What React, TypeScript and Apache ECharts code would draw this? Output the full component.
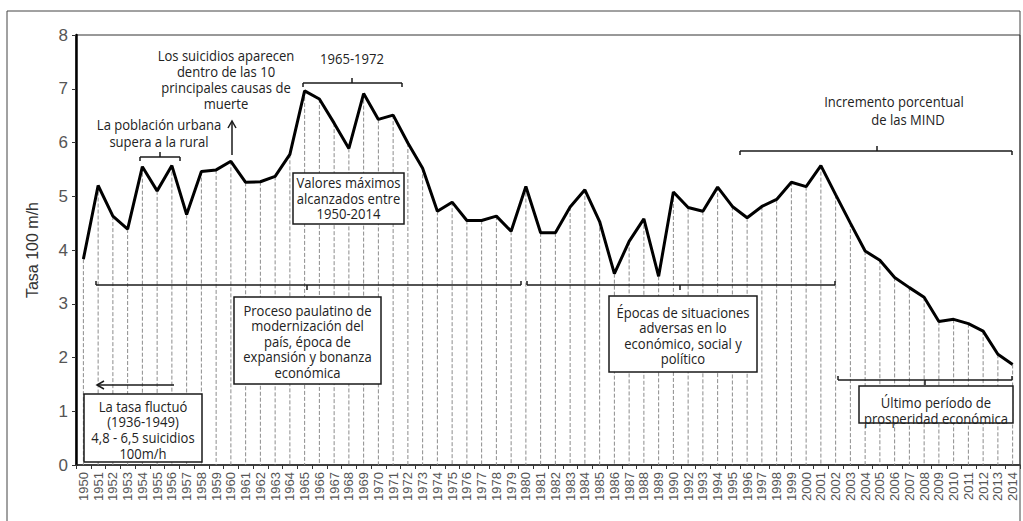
import React, { useEffect, useRef } from "react";
import * as echarts from "echarts";

const years = [
  "1950","1951","1952","1953","1954","1955","1956","1957","1958","1959",
  "1960","1961","1962","1963","1964","1965","1966","1967","1968","1969",
  "1970","1971","1972","1973","1974","1975","1976","1977","1978","1979",
  "1980","1981","1982","1983","1984","1985","1986","1987","1988","1989",
  "1990","1992","1993","1994","1995","1996","1997","1998","1999","2000",
  "2001","2002","2003","2004","2005","2006","2007","2008","2009","2010",
  "2011","2012","2013","2014",
];

const rates = [
  3.83, 5.2, 4.63, 4.39, 5.55, 5.1, 5.57, 4.66, 5.46, 5.49,
  5.65, 5.26, 5.27, 5.37, 5.78, 6.96, 6.81, 6.36, 5.89, 6.91,
  6.43, 6.51, 5.99, 5.52, 4.72, 4.89, 4.55, 4.55, 4.63, 4.35,
  5.18, 4.32, 4.32, 4.8, 5.12, 4.53, 3.56, 4.16, 4.58, 3.51,
  5.08, 4.79, 4.72, 5.17, 4.81, 4.6, 4.81, 4.94, 5.26, 5.18,
  5.57, 5.03, 4.5, 3.98, 3.81, 3.49, 3.3, 3.12, 2.67, 2.71,
  2.63, 2.49, 2.06, 1.87,
];

const yTicks = [0, 1, 2, 3, 4, 5, 6, 7, 8];
const yAxisTitle = "Tasa 100 m/h";

const AFONT = "'Open Sans', 'Noto Sans', sans-serif";
const XFONT = "'Liberation Sans', Arial, sans-serif";
const TXT = "#222";
const INK = "#1a1a1a";
const SX = 0.87;

function textLines(lines: string[], cx: number, y0: number, lh: number, size = 15): any[] {
  return lines.map((t, i) => ({
    type: "text",
    z: 20,
    x: cx,
    y: y0 + i * lh,
    scaleX: SX,
    style: {
      text: t,
      x: 0,
      y: 0,
      textAlign: "center",
      textVerticalAlign: "middle",
      font: `${size}px ${AFONT}`,
      fill: TXT,
    },
  }));
}

function box(x1: number, y1: number, x2: number, y2: number): any {
  return {
    type: "rect",
    z: 15,
    shape: { x: x1, y: y1, width: x2 - x1, height: y2 - y1 },
    style: { fill: "#fff", stroke: INK, lineWidth: 1.5 },
  };
}

function ln(x1: number, y1: number, x2: number, y2: number, w = 1.5): any {
  return {
    type: "line",
    z: 16,
    shape: { x1, y1, x2, y2 },
    style: { stroke: INK, lineWidth: w },
  };
}

function bracket(x1: number, x2: number, y: number, mid: number, endDir: number, midDir: number): any[] {
  return [
    ln(x1, y, x2, y),
    ln(x1, y, x1, y + endDir * 4),
    ln(x2, y, x2, y + endDir * 4),
    ln(mid, y, mid, y + midDir * 5),
  ];
}

export default function App() {
  const ref = useRef<HTMLDivElement>(null);

  useEffect(() => {
    if (!ref.current) return;
    const chart = echarts.init(ref.current, undefined, { renderer: "svg" });

    const graphic: any[] = [
      {
        type: "rect",
        z: 1,
        shape: { x: 7, y: 11, width: 1013, height: 530 },
        style: { fill: "none", stroke: "#444", lineWidth: 1 },
      },
      ...textLines(["Los suicidios aparecen", "dentro de las 10", "principales causas de", "muerte"], 226, 55, 15.9),
      ln(232, 155, 232, 122),
      {
        type: "polyline",
        z: 16,
        shape: { points: [[228, 128], [232, 121], [236, 128]] },
        style: { stroke: INK, lineWidth: 1.5, fill: "none" },
      },
      ...textLines(["La población urbana", "supera a la rural"], 159, 124.5, 16.5),
      ...bracket(140, 180, 157, 160, 1, -1),
      ...textLines(["1965-1972"], 352, 58.5, 16),
      ...bracket(303, 402, 83, 352, 1, -1),
      box(293, 173, 404, 224),
      ...textLines(["Valores máximos", "alcanzados entre", "1950-2014"], 348.5, 182, 15.7),
      ...textLines(["Incremento porcentual"], 894, 101.5, 16),
      ...textLines(["de las MIND"], 908, 119.5, 16),
      ...bracket(740, 1012, 151, 877, 1, -1),
      ...bracket(96, 521, 285, 307, -1, 1),
      box(234, 297, 381, 384),
      ...textLines(["Proceso paulatino de", "modernización del", "país, época de", "expansión y bonanza", "económica"], 307.5, 310, 15.5),
      ...bracket(527, 835, 285, 680, -1, 1),
      box(609, 296, 757, 372),
      ...textLines(["Épocas de situaciones", "adversas en lo", "económico, social y", "político"], 683, 312, 15.4),
      ...bracket(838, 1012, 380, 925, -1, 1),
      box(859, 386, 1013, 423),
      ...textLines(["Último período de", "prosperidad económica"], 936, 402, 16.3),
      ln(174, 385, 97, 385),
      {
        type: "polyline",
        z: 16,
        shape: { points: [[104, 381], [97, 385], [104, 389]] },
        style: { stroke: INK, lineWidth: 1.5, fill: "none" },
      },
      box(84, 394, 202, 462),
      ...textLines(["La tasa fluctuó", "(1936-1949)", "4,8 - 6,5 suicidios", "100m/h"], 143, 406, 15.6),
    ];

    chart.setOption({
      animation: false,
      backgroundColor: "#fff",
      textStyle: { fontFamily: XFONT },
      grid: {
        left: 76,
        right: 3,
        top: 35,
        bottom: 56,
        show: true,
        borderColor: "#333",
        borderWidth: 1,
        containLabel: false,
      },
      xAxis: {
        type: "category",
        data: years,
        boundaryGap: true,
        axisLine: { lineStyle: { color: "#222", width: 1.5 } },
        axisTick: { show: true, alignWithLabel: false, length: 4, lineStyle: { color: "#333" } },
        axisLabel: {
          interval: 0,
          rotate: 90,
          fontSize: 13,
          color: "#555",
          fontFamily: XFONT,
          margin: 7,
        },
        splitLine: { show: false },
      },
      yAxis: {
        type: "value",
        min: yTicks[0],
        max: yTicks[yTicks.length - 1],
        interval: 1,
        name: yAxisTitle,
        nameLocation: "middle",
        nameGap: 36,
        nameRotate: 90,
        nameTextStyle: { fontSize: 16, color: "#333", fontFamily: XFONT },
        axisLine: { show: true, lineStyle: { color: "#000", width: 2.5 } },
        axisTick: { show: true, length: 4, lineStyle: { color: "#333" } },
        axisLabel: { fontSize: 17, color: "#555", fontFamily: XFONT, margin: 8 },
        splitLine: { show: false },
      },
      series: [
        {
          type: "custom",
          z: 1,
          data: rates.map((v, i) => [i, v]),
          renderItem: (params: any, api: any) => {
            const i = api.value(0);
            const v = api.value(1);
            const top = api.coord([i, v]);
            const bot = api.coord([i, 0]);
            return {
              type: "line",
              shape: { x1: top[0], y1: top[1], x2: bot[0], y2: bot[1] },
              style: { stroke: "#8c8c8c", lineWidth: 1, lineDash: [4, 2] },
            };
          },
          silent: true,
        },
        {
          type: "line",
          z: 5,
          data: rates,
          showSymbol: false,
          symbol: "none",
          lineStyle: { color: "#000", width: 3 },
          silent: true,
        },
      ],
      graphic,
    });

    return () => chart.dispose();
  }, []);

  return (
    <div
      ref={ref}
      style={{ position: "absolute", left: 0, top: 0, width: 1023, height: 521 }}
    />
  );
}
